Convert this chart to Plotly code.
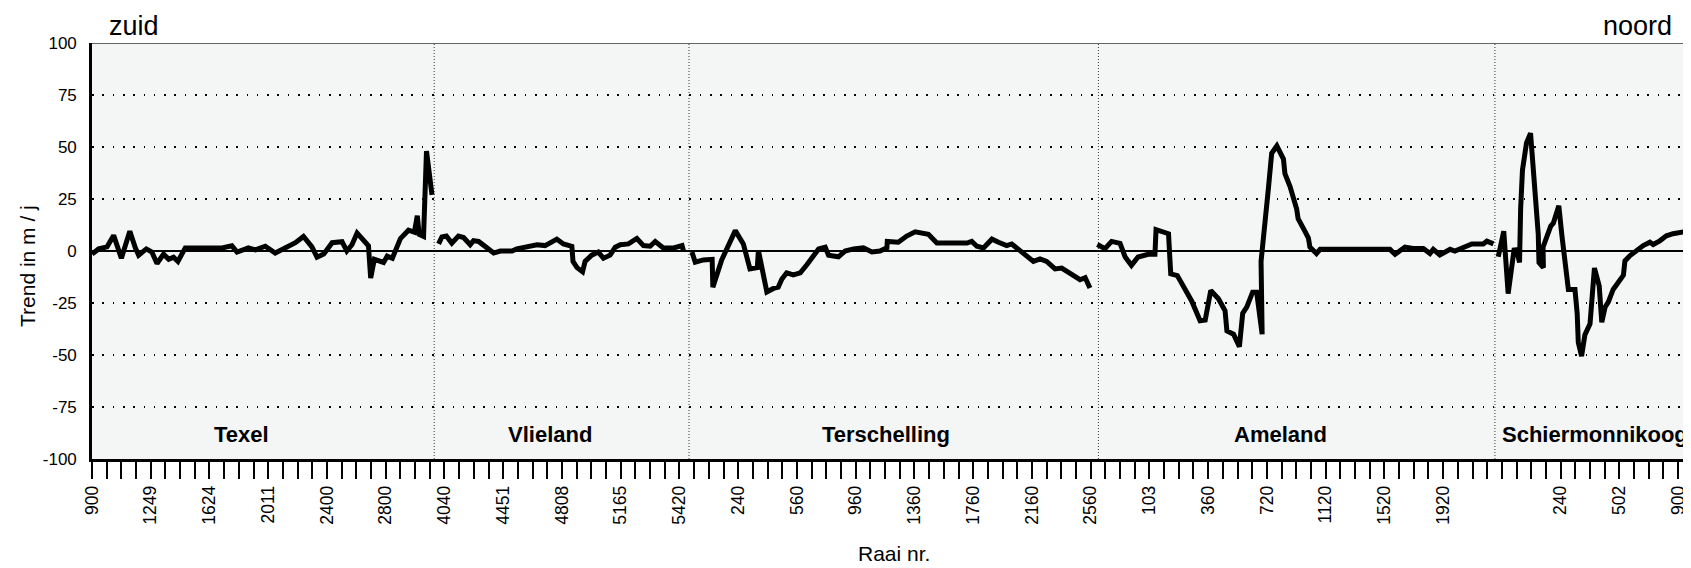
import plotly.graph_objects as go

# ---------------- data ----------------
# x = sequential transect (raai) index along the coast, y = trend in m/j
texel_idx = [0, 1.8, 4.1, 5.9, 8.0, 10.3, 11.8, 12.7, 14.8, 16.3, 17.7, 19.5, 20.9, 22.2, 23.4, 25.4,
             35.4, 38.1, 39.5, 42.6, 44.5, 47.2, 49.9, 52.6, 55.4, 57.6, 59.9, 61.3, 63.1, 65.4, 68.1,
             69.4, 70.8, 72.2, 74.0, 75.3, 75.9, 76.9, 79.4, 80.4, 81.8, 82.8, 84.0, 86.2, 87.8, 88.6,
             89.1, 90.3, 91.1, 92.6]
texel_trend = [-1.5, 1, 2, 7.5, -3.5, 9.5, 1.5, -2, 1, -0.5, -6, -1.5, -4, -3, -5, 1.5,
               1.5, 2.5, -0.5, 1.5, 0.5, 2.3, -1, 1.5, 4, 7, 2, -3, -1.5, 4, 4.5,
               0, 3, 8.6, 4.5, 2.5, -13, -4, -5.5, -2.5, -3.5, 1.5, 6, 10, 9, 17,
               8, 7, 48, 27]

vlieland_idx = [94.4, 95.3, 96.5, 98.0, 99.8, 101.2, 103.0, 103.9, 105.3, 107.1, 109.4, 111.2, 114.4,
                115.7, 118.4, 121.2, 123.4, 126.6, 128.4, 130.7, 131.0, 132.1, 133.6, 134.3, 136.1,
                137.9, 139.3, 141.1, 142.5, 143.9, 146.1, 148.4, 150.2, 152.0, 153.4, 155.6, 158.4,
                160.7, 161.1]
vlieland_trend = [3.4, 6.8, 7.2, 3.8, 7.2, 6.5, 3, 5, 4.6, 1.8, -1, 0, 0,
                  1, 2.2, 3, 2.6, 5.7, 3.4, 2.2, -5, -8, -10, -5, -2,
                  -0.5, -3.5, -2, 1.8, 3, 3.4, 6, 2.6, 2.3, 4.6, 1.5, 1.5,
                  2.6, 0]

terschelling_idx = [163.4, 164.3, 166.5, 168.9, 169.1, 171.5, 175.2, 177.4, 179.2, 181.2, 181.5, 183.8,
                    185.6, 186.9, 187.9, 189.2, 191.0, 192.9, 194.7, 197.0, 197.9, 199.7, 200.6, 203.3,
                    205.1, 207.4, 210.1, 212.4, 214.6, 216.5, 216.6, 219.6, 221.9, 224.2, 226.0, 227.8,
                    230.1, 238.3, 239.6, 241.0, 242.8, 245.1, 246.9, 249.1, 250.5, 252.8, 256.4, 258.2,
                    260.0, 262.3, 264.1, 266.4, 269.1, 270.5, 271.0, 271.8]
terschelling_trend = [-0.5, -5.4, -4.3, -4, -17.4, -4.3, 9.8, 3.4, -8.6, -8, 0.3, -19.7,
                      -18, -17.4, -13.5, -10.5, -11.5, -10.5, -6.6, -1.2, 1, 1.8, -2, -2.8,
                      0, 1, 1.5, -0.5, 0, 1.5, 4.6, 4.2, 7.2, 9.2, 8.8, 8,
                      3.8, 3.8, 4.6, 2.3, 1.5, 5.7, 4.2, 2.6, 3.4, 0.3, -5, -3.8,
                      -5, -8.6, -8.2, -10.8, -13.8, -12.8, -15, -17.8]

ameland_idx = [273.8, 275.9, 277.7, 280.0, 281.4, 283.1, 284.9, 287.7, 289.5, 289.8, 293.2, 293.8,
               295.6, 297.7, 299.5, 301.8, 303.2, 304.7, 306.8, 308.6, 309.1, 310.9, 312.5, 313.4,
               314.5, 316.1, 317.2, 318.7, 318.4, 320.4, 321.3, 322.7, 324.5, 324.9, 326.3, 328.1,
               328.5, 330.4, 331.3, 331.7, 333.5, 334.5, 353.5, 354.9, 357.6, 359.8, 362.6, 364.4,
               365.3, 367.1, 369.9, 371.2, 373.5, 375.8, 378.9, 379.9, 381.7]
ameland_trend = [3.1, 1.1, 4.6, 3.7, -2.9, -6.9, -2.9, -1.6, -1.6, 10.3, 8.3, -11,
                 -11.8, -19, -24, -33.5, -33.2, -19, -23, -28.7, -38.4, -40, -46, -30,
                 -27, -19.8, -19.8, -40, -5, 30, 47, 50.5, 44.2, 37.2, 31, 20.2,
                 15.5, 9.3, 6.2, 1.9, -1.2, 0.8, 0.8, -1.6, 1.9, 1.2, 1.2, -1.2,
                 0.8, -1.9, 0.8, 0, 1.9, 3.4, 3.4, 4.7, 3.4]

schier_idx = [383.0, 384.5, 385.7, 387.3, 388.0, 388.8, 389.1, 389.6, 390.7, 391.8, 392.7, 393.9,
              394.1, 395.3, 395.2, 397.3, 398.0, 399.5, 400.3, 402.1, 403.9, 404.5, 404.8, 405.7,
              406.6, 408.0, 409.2, 410.5, 411.2, 412.1, 413.0, 414.3, 417.1, 417.5, 418.9, 420.7,
              422.5, 424.3, 425.2, 427.0, 428.8, 430.6, 432.4, 433.8, 435.4]
schier_trend = [-2.8, 9.5, -20.5, 0.5, 0.6, -5.5, 20.4, 38.9, 52, 56.6, 35.8, 8,
                -5.6, -8, 1.8, 12, 13.4, 21.8, 8, -18.5, -18.5, -30, -44, -50.5,
                -40.3, -35, -8.2, -16.8, -34.3, -27, -24.5, -18.5, -11.6, -4.8, -2.2, 0.3,
                2.6, 4.2, 3.1, 4.9, 7.3, 8.3, 8.8, 9.3, 11.1]

islands = ["Texel", "Vlieland", "Terschelling", "Ameland", "Schiermonnikoog"]
island_boundaries = [93.2, 162.6, 274.1, 382.1]

tick_labels = ["900", "1249", "1624", "2011", "2400", "2800", "4040", "4451", "4808", "5165",
               "5420", "240", "560", "960", "1360", "1760", "2160", "2560", "103", "360",
               "720", "1120", "1520", "1920", "", "240", "502", "900"]
y_ticks = [100, 75, 50, 25, 0, -25, -50, -75, -100]

# ---------------- layout helpers ----------------
PAGE_OFF = 8                 # default body margin of the html page
W, H = 1691 - PAGE_OFF, 568 - PAGE_OFF
ML, MR, MT, MB = 84, 0, 35, 109
PW, PH = W - ML - MR, H - MT - MB
X_MAX = 435.5
FONT = "Liberation Sans, Arial, Helvetica, sans-serif"

def px_x(page_px):
    return (page_px - PAGE_OFF - ML) / PW

def px_y(page_py):
    return (H - MB - (page_py - PAGE_OFF)) / PH

series = [(texel_idx, texel_trend), (vlieland_idx, vlieland_trend),
          (terschelling_idx, terschelling_trend), (ameland_idx, ameland_trend),
          (schier_idx, schier_trend)]

fig = go.Figure()
for (xs, ys), name in zip(series, islands):
    fig.add_trace(go.Scatter(x=xs, y=ys, mode="lines", name=name,
                             line=dict(color="black", width=5),
                             showlegend=False, hoverinfo="skip"))

# ticks every 4 transects, labels every 16
tick_step = 4
label_every = 4
n_ticks = int(X_MAX // tick_step) + 1
tickvals, ticktext = [], []
for k in range(n_ticks):
    tickvals.append(k * tick_step)
    if k % label_every == 0 and k // label_every < len(tick_labels):
        ticktext.append(tick_labels[k // label_every])
    else:
        ticktext.append("")

shapes = []
for b in island_boundaries:
    shapes.append(dict(type="line", xref="x", yref="y", x0=b, x1=b, y0=-100, y1=100,
                       line=dict(color="#333", width=1, dash="1px,2px"), layer="below"))
shapes.append(dict(type="line", xref="paper", yref="y", x0=0, x1=1, y0=100, y1=100,
                   line=dict(color="#333", width=1.5), layer="above"))

label_pos = [40.8, 124.7, 216.3, 323.6, 409.3]
annotations = []
for name, xp in zip(islands, label_pos):
    annotations.append(dict(x=xp, y=-88, xref="x", yref="y", text="<b>%s</b>" % name,
                            showarrow=False, font=dict(size=22, color="black", family=FONT),
                            xanchor="center", yanchor="middle"))
annotations += [
    dict(x=px_x(107), y=px_y(9), xref="paper", yref="paper", text="zuid", showarrow=False,
         xanchor="left", yanchor="top", font=dict(size=27, color="black", family=FONT)),
    dict(x=px_x(1674), y=px_y(9), xref="paper", yref="paper", text="noord", showarrow=False,
         xanchor="right", yanchor="top", font=dict(size=27, color="black", family=FONT)),
    dict(x=px_x(894), y=px_y(553), xref="paper", yref="paper", text="Raai nr.", showarrow=False,
         xanchor="center", yanchor="middle", font=dict(size=21, color="black", family=FONT)),
    dict(x=px_x(27), y=px_y(266), xref="paper", yref="paper", text="Trend in m / j",
         showarrow=False, textangle=-90, xanchor="center", yanchor="middle",
         font=dict(size=21, color="black", family=FONT)),
]

fig.update_layout(
    width=W, height=H,
    margin=dict(l=ML, r=MR, t=MT, b=MB, pad=0, autoexpand=False),
    paper_bgcolor="white", plot_bgcolor="#f4f6f5",
    font=dict(family=FONT, color="black", size=17),
    shapes=shapes, annotations=annotations,
    xaxis=dict(range=[0, X_MAX], tickmode="array", tickvals=tickvals, ticktext=ticktext,
               tickangle=-90, ticks="outside", ticklen=17, tickwidth=1.6, tickcolor="black",
               showline=True, linewidth=2.6, linecolor="black", showgrid=False, zeroline=False,
               automargin=False, tickfont=dict(size=17.5, family=FONT, color="black")),
    yaxis=dict(range=[-100, 100], tickmode="array", tickvals=y_ticks,
               ticktext=[str(v) for v in y_ticks], ticks="", ticklabelstandoff=9,
               showline=True, linewidth=2.6, linecolor="black", automargin=False,
               showgrid=True, gridcolor="black", gridwidth=1.6, griddash="1.6px,8.7px",
               zeroline=True, zerolinecolor="black", zerolinewidth=2.4,
               tickfont=dict(size=17, family=FONT, color="black")),
)

fig.write_html("out.html")
